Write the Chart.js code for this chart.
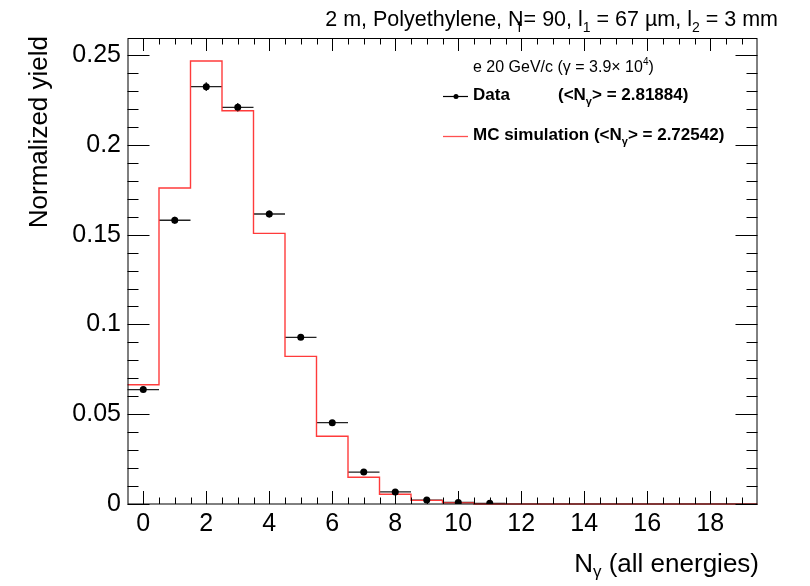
<!DOCTYPE html>
<html>
<head>
<meta charset="utf-8">
<script src="https://cdn.jsdelivr.net/npm/chart.js@4"></script>
<style>
  body { margin: 0; background: #fff; }
  canvas { display: block; }
</style>
</head>
<body>
<canvas id="yieldChart" width="810" height="586"></canvas>
<script>
'use strict';

// Data
const binCenters = [0, 1, 2, 3, 4, 5, 6, 7, 8, 9, 10, 11, 12, 13, 14, 15, 16, 17, 18, 19];
const mcYield    = [0.0664, 0.176, 0.2467, 0.219, 0.1507, 0.0822, 0.0377, 0.0149, 0.0054, 0.0020,
                    0.0006, 0, 0, 0, 0, 0, 0, 0, 0, 0];
const dataX      = [0, 1, 2, 3, 4, 5, 6, 7, 8, 9, 10, 11];
const dataYield  = [0.0637, 0.158, 0.2324, 0.2209, 0.1615, 0.0928, 0.0453, 0.0178, 0.0067, 0.0022, 0.0009, 0.0004];
const dataErr    = [0.0015, 0.002, 0.0024, 0.0024, 0.002, 0.0015, 0.0012, 0.0008, 0.0005, 0.0003, 0.0002, 0.0001];

// Tick labels
const xTicks = [0, 2, 4, 6, 8, 10, 12, 14, 16, 18];
const yTicks = [0, 0.05, 0.1, 0.15, 0.2, 0.25];
const yTickLabels = ['0', '0.05', '0.1', '0.15', '0.2', '0.25'];

const FONT = 'Liberation Sans, Arial, sans-serif';

// histogram outline: points at the low edge of every bin, stepped
const mcPoints = binCenters.map((c, i) => ({ x: c - 0.5, y: mcYield[i] }));
mcPoints.push({ x: binCenters[binCenters.length - 1] + 0.5, y: 0 });

const dataPoints = dataX.map((x, i) => ({ x: x, y: dataYield[i] }));

// draw text pieces one after another (for sub / superscripts)
function drawParts(ctx, parts, x, y, align) {
  let total = 0;
  parts.forEach((p) => {
    ctx.font = p.font;
    p.w = p.adv === 0 ? 0 : ctx.measureText(p.t).width;
    total += p.w;
  });
  let cx = align === 'right' ? x - total : x;
  ctx.textAlign = 'left';
  ctx.textBaseline = 'alphabetic';
  parts.forEach((p) => {
    ctx.font = p.font;
    ctx.fillText(p.t, cx + (p.dx || 0), y + (p.dy || 0));
    cx += p.w;
  });
}

const errorBars = {
  id: 'errorBars',
  beforeDatasetsDraw(chart) {
    const { ctx, scales: { x, y } } = chart;
    ctx.save();
    ctx.strokeStyle = '#222';
    ctx.lineWidth = 1.3;
    dataX.forEach((v, i) => {
      const px = x.getPixelForValue(v);
      const py = y.getPixelForValue(dataYield[i]);
      ctx.beginPath();
      ctx.moveTo(x.getPixelForValue(v - 0.5), py);
      ctx.lineTo(x.getPixelForValue(v + 0.5), py);
      ctx.moveTo(px, y.getPixelForValue(dataYield[i] - dataErr[i]));
      ctx.lineTo(px, y.getPixelForValue(dataYield[i] + dataErr[i]));
      ctx.stroke();
    });
    ctx.restore();
  }
};

const rootFrame = {
  id: 'rootFrame',
  afterDraw(chart) {
    const { ctx, chartArea: a, scales: { x, y } } = chart;
    ctx.save();

    // frame
    ctx.strokeStyle = '#000';
    ctx.lineWidth = 1;
    ctx.strokeRect(a.left + 0.5, a.top + 0.5, a.right - a.left - 1, a.bottom - a.top - 0.5);

    // x ticks (bottom + top), minor every 0.5
    ctx.beginPath();
    for (let v = 0; v <= 19.01; v += 0.5) {
      const px = Math.round(x.getPixelForValue(v)) + 0.5;
      const len = (v % 2 === 0) ? 13 : 6.5;
      ctx.moveTo(px, a.bottom); ctx.lineTo(px, a.bottom - len);
      ctx.moveTo(px, a.top); ctx.lineTo(px, a.top + len);
    }
    // y ticks (left + right), minor every 0.01
    for (let k = 0; k <= 25; k++) {
      const py = Math.round(y.getPixelForValue(k * 0.01)) + 0.5;
      const len = (k % 5 === 0) ? 22 : 11;
      ctx.moveTo(a.left, py); ctx.lineTo(a.left + len, py);
      ctx.moveTo(a.right, py); ctx.lineTo(a.right - len, py);
    }
    ctx.stroke();

    // tick labels
    ctx.fillStyle = '#000';
    ctx.font = '25px ' + FONT;
    ctx.textAlign = 'center';
    ctx.textBaseline = 'alphabetic';
    xTicks.forEach((v) => ctx.fillText(String(v), x.getPixelForValue(v), 531));
    ctx.textAlign = 'right';
    ctx.textBaseline = 'middle';
    yTicks.forEach((v, i) => ctx.fillText(yTickLabels[i], 121, y.getPixelForValue(v)));

    // y title
    ctx.save();
    ctx.translate(47, 36);
    ctx.rotate(-Math.PI / 2);
    ctx.textAlign = 'right';
    ctx.textBaseline = 'alphabetic';
    ctx.font = '26px ' + FONT;
    ctx.fillText('Normalized yield', 0, 0);
    ctx.restore();

    // x title
    const big = '26px ' + FONT, sub = '17px ' + FONT;
    drawParts(ctx, [
      { t: 'N', font: big },
      { t: 'γ', font: sub, dy: 5 },
      { t: ' (all energies)', font: big }
    ], 759, 572, 'right');

    // top title
    const tf = '21.5px ' + FONT, ts = '14px ' + FONT;
    drawParts(ctx, [
      { t: '2 m, Polyethylene, N', font: tf },
      { t: 'f', font: ts, dy: 6, dx: -6, adv: 0 },
      { t: '= 90, l', font: tf },
      { t: '1', font: ts, dy: 6 },
      { t: ' = 67 µm, l', font: tf },
      { t: '2', font: ts, dy: 6 },
      { t: ' = 3 mm', font: tf }
    ], 778, 26, 'right');

    // legend
    const lf = '16px ' + FONT, ls = '10px ' + FONT;
    drawParts(ctx, [
      { t: 'e 20 GeV/c (γ = 3.9× 10', font: lf },
      { t: '4', font: ls, dy: -7 },
      { t: ')', font: lf }
    ], 473, 72, 'left');

    const bf = 'bold 17px ' + FONT, bs = 'bold 11px ' + FONT;
    ctx.font = bf;
    ctx.fillText('Data', 473, 100);
    drawParts(ctx, [
      { t: '(<N', font: bf },
      { t: 'γ', font: bs, dy: 5 },
      { t: '> = 2.81884)', font: bf }
    ], 558, 100, 'left');
    drawParts(ctx, [
      { t: 'MC simulation (<N', font: bf },
      { t: 'γ', font: bs, dy: 5 },
      { t: '> = 2.72542)', font: bf }
    ], 473, 140, 'left');

    ctx.strokeStyle = '#000';
    ctx.lineWidth = 1.2;
    ctx.beginPath();
    ctx.moveTo(443, 96.5); ctx.lineTo(468, 96.5);
    ctx.stroke();
    ctx.beginPath();
    ctx.arc(456, 96.5, 2.5, 0, Math.PI * 2);
    ctx.fill();
    ctx.strokeStyle = '#ff5050';
    ctx.lineWidth = 1.3;
    ctx.beginPath();
    ctx.moveTo(443, 136.5); ctx.lineTo(468, 136.5);
    ctx.stroke();

    ctx.restore();
  }
};

new Chart(document.getElementById('yieldChart').getContext('2d'), {
  type: 'scatter',
  data: {
    datasets: [
      {
        label: 'Data',
        data: dataPoints,
        pointRadius: 3.5,
        pointBackgroundColor: '#000',
        pointBorderColor: '#000',
        pointBorderWidth: 0,
        showLine: false,
        order: 1,
      },
      {
        label: 'MC simulation',
        type: 'line',
        data: mcPoints,
        stepped: 'before',
        borderColor: '#ff3b3b',
        borderWidth: 1.4,
        pointRadius: 0,
        fill: false,
        clip: 4,
        order: 2,
      },
    ],
  },
  options: {
    responsive: false,
    animation: false,
    events: [],
    layout: { padding: { left: 127.5, right: 52.5, top: 38, bottom: 82 } },
    plugins: { legend: { display: false }, tooltip: { enabled: false } },
    scales: {
      x: { type: 'linear', min: -0.5, max: 19.5, display: false },
      y: { type: 'linear', min: 0, max: 0.2595, display: false },
    },
  },
  plugins: [errorBars, rootFrame],
});
</script>
</body>
</html>
